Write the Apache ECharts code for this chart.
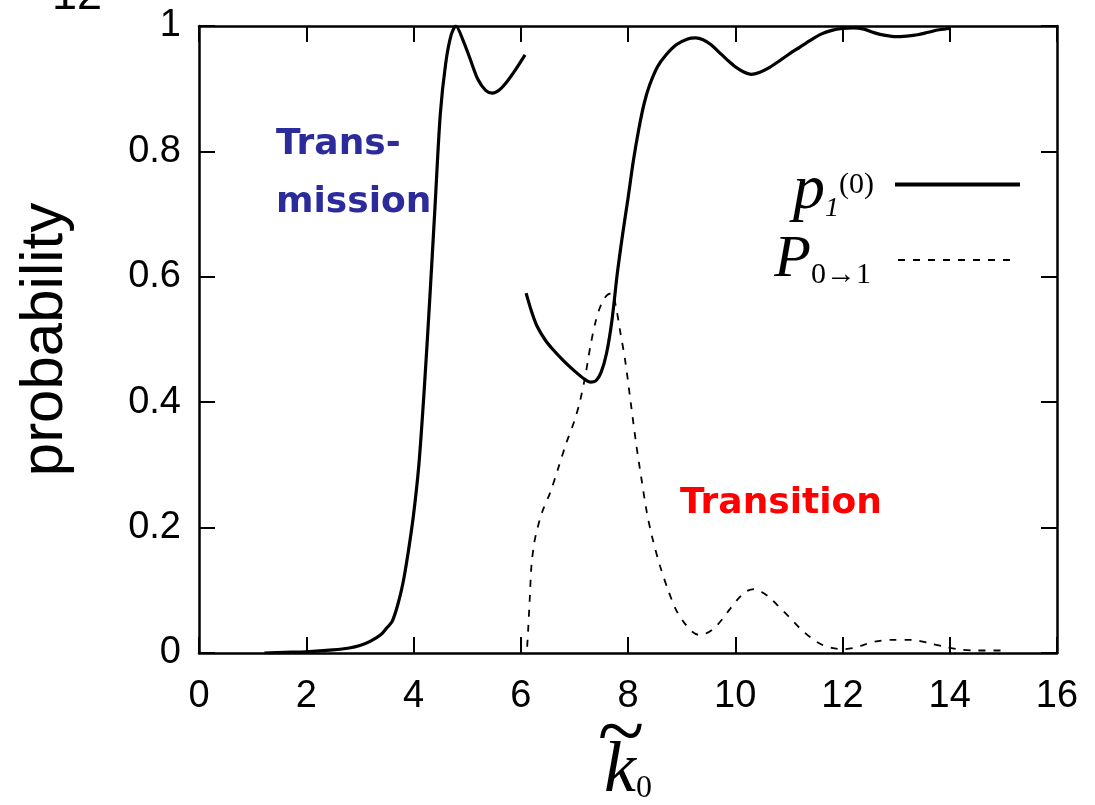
<!DOCTYPE html>
<html>
<head>
<meta charset="utf-8">
<script src="https://cdn.jsdelivr.net/npm/echarts@6/dist/echarts.min.js"></script>
<style>html,body{margin:0;padding:0;background:#fff}#c{width:1095px;height:805px}</style>
</head>
<body>
<div id="c"></div>
<script>
// ---- data ----
const pBranch1X = [1.22, 1.6, 2.0, 2.5, 2.8, 3.0, 3.2, 3.4, 3.5, 3.6, 3.7, 3.8, 3.9, 4.0, 4.1, 4.2, 4.3, 4.4, 4.5, 4.6, 4.7, 4.79, 4.92, 5.05, 5.2, 5.35, 5.47, 5.6, 5.75, 5.9, 6.08];
const pBranch1Y = [0.0, 0.001, 0.002, 0.005, 0.008, 0.012, 0.019, 0.030, 0.040, 0.050, 0.075, 0.110, 0.160, 0.220, 0.300, 0.420, 0.560, 0.710, 0.860, 0.940, 0.985, 1.0, 0.978, 0.949, 0.915, 0.897, 0.893, 0.898, 0.912, 0.930, 0.954];
const pBranch2X = [6.10, 6.2, 6.3, 6.45, 6.6, 6.8, 7.0, 7.2, 7.3, 7.4, 7.5, 7.6, 7.7, 7.8, 7.9, 8.0, 8.1, 8.2, 8.3, 8.4, 8.55, 8.7, 8.9, 9.1, 9.26, 9.4, 9.55, 9.7, 9.85, 10.0, 10.15, 10.3, 10.45, 10.6, 10.8, 11.0, 11.2, 11.4, 11.6, 11.8, 12.0, 12.2, 12.4, 12.6, 12.8, 13.0, 13.2, 13.4, 13.6, 13.8, 14.02];
const pBranch2Y = [0.574, 0.545, 0.522, 0.500, 0.484, 0.466, 0.450, 0.436, 0.432, 0.434, 0.448, 0.478, 0.530, 0.605, 0.668, 0.725, 0.785, 0.835, 0.876, 0.905, 0.935, 0.953, 0.970, 0.979, 0.981, 0.978, 0.970, 0.958, 0.946, 0.935, 0.927, 0.923, 0.926, 0.932, 0.943, 0.955, 0.966, 0.977, 0.987, 0.993, 0.996, 0.997, 0.995, 0.989, 0.985, 0.983, 0.984, 0.986, 0.990, 0.994, 0.996];
const transX = [6.12, 6.14, 6.17, 6.2, 6.25, 6.3, 6.4, 6.55, 6.7, 6.85, 7.0, 7.1, 7.2, 7.3, 7.4, 7.5, 7.6, 7.7, 7.78, 7.85, 7.95, 8.05, 8.15, 8.25, 8.35, 8.45, 8.6, 8.75, 8.9, 9.05, 9.2, 9.32, 9.45, 9.6, 9.75, 9.9, 10.05, 10.2, 10.35, 10.5, 10.65, 10.8, 11.0, 11.2, 11.4, 11.6, 11.8, 12.0, 12.2, 12.4, 12.6, 12.9, 13.3, 13.6, 13.9, 14.15, 14.5, 15.0];
const transY = [0.01, 0.04, 0.09, 0.14, 0.175, 0.195, 0.225, 0.256, 0.295, 0.335, 0.37, 0.40, 0.44, 0.49, 0.53, 0.556, 0.570, 0.574, 0.55, 0.515, 0.465, 0.40, 0.335, 0.278, 0.225, 0.185, 0.138, 0.10, 0.068, 0.048, 0.034, 0.029, 0.031, 0.039, 0.053, 0.07, 0.086, 0.098, 0.102, 0.097, 0.088, 0.075, 0.058, 0.040, 0.025, 0.014, 0.008, 0.006, 0.008, 0.013, 0.018, 0.021, 0.021, 0.016, 0.010, 0.006, 0.004, 0.004];
const xTicks = [0, 2, 4, 6, 8, 10, 12, 14, 16];
const yTicks = [0, 0.2, 0.4, 0.6, 0.8, 1];
const seriesNames = ['p1', 'P01'];

// ---- build series data ----
const zip = (xs, ys) => xs.map((x, i) => [x, ys[i]]);
const pData = zip(pBranch1X, pBranch1Y).concat([[6.09, '-']], zip(pBranch2X, pBranch2Y));
const tData = zip(transX, transY);

const chart = echarts.init(document.getElementById('c'), null, {renderer: 'canvas'});
const axisLineStyle = {color: '#000', width: 2.5};
const tickStyle = {show: true, inside: true, length: 16, lineStyle: {color: '#000', width: 2}};
const tickFont = {fontFamily: 'Liberation Sans, Arial, sans-serif', fontSize: 38, color: '#000'};
const serif = 'Liberation Serif, Times New Roman, DejaVu Serif, serif';

chart.setOption({
  animation: false,
  backgroundColor: '#fff',
  grid: {left: 199, right: 38, top: 26, bottom: 152, containLabel: false, outerBoundsMode: 'none'},
  xAxis: [{
    type: 'value', min: xTicks[0], max: xTicks[xTicks.length - 1], interval: 2,
    axisLine: {show: true, onZero: false, lineStyle: axisLineStyle},
    axisTick: tickStyle,
    splitLine: {show: false},
    axisLabel: Object.assign({margin: 25}, tickFont),
    name: '{t|~}\n{k|k}{s|0}', nameLocation: 'middle', nameGap: 80, nameMoveOverlap: false,
    nameTextStyle: {rich: {
      t: {fontFamily: serif, fontSize: 86, lineHeight: 6, color: '#000', padding: [0, 14, 0, 0]},
      k: {fontFamily: serif, fontStyle: 'italic', fontSize: 72, lineHeight: 66, color: '#000'},
      s: {fontFamily: serif, fontSize: 32, lineHeight: 0, color: '#000', verticalAlign: 'bottom'}
    }}
  }, {
    type: 'value', position: 'top', min: xTicks[0], max: xTicks[xTicks.length - 1], interval: 2,
    axisLine: {show: true, onZero: false, lineStyle: axisLineStyle},
    axisTick: tickStyle,
    axisLabel: {show: false}, splitLine: {show: false}
  }],
  yAxis: [{
    type: 'value', min: yTicks[0], max: yTicks[yTicks.length - 1], interval: 0.2,
    axisLine: {show: true, onZero: false, lineStyle: axisLineStyle},
    axisTick: tickStyle,
    splitLine: {show: false},
    axisLabel: Object.assign({margin: 18}, tickFont),
    name: 'probability', nameLocation: 'middle', nameGap: 124, nameRotate: 90, nameMoveOverlap: false,
    nameTextStyle: {fontFamily: 'Liberation Sans, Arial, sans-serif', fontSize: 60, color: '#000'}
  }, {
    type: 'value', position: 'right', min: yTicks[0], max: yTicks[yTicks.length - 1], interval: 0.2,
    axisLine: {show: true, onZero: false, lineStyle: axisLineStyle},
    axisTick: tickStyle,
    axisLabel: {show: false}, splitLine: {show: false}
  }],
  legend: [{
    data: [seriesNames[0]], right: 68, top: 154, orient: 'vertical', align: 'right',
    itemWidth: 125, itemHeight: 14, itemStyle: {opacity: 0},
    lineStyle: {width: 4},
    formatter: () => '{p|p}{s|1}{u|(0)}',
    textStyle: {padding: [13, 16, 0, 0], rich: {
      p: {fontFamily: serif, fontStyle: 'italic', fontSize: 64, color: '#000'},
      s: {fontFamily: serif, fontStyle: 'italic', fontSize: 28, color: '#000', verticalAlign: 'bottom'},
      u: {fontFamily: serif, fontSize: 30, color: '#000', verticalAlign: 'top', padding: [11, 0, 0, 0]}
    }}
  }, {
    data: [seriesNames[1]], right: 73, top: 225, orient: 'vertical', align: 'right',
    itemWidth: 118, itemHeight: 14, itemStyle: {opacity: 0},
    formatter: () => '{P|P}{s|0\u21921}',
    textStyle: {padding: [0, 22, 0, 0], rich: {
      P: {fontFamily: serif, fontStyle: 'italic', fontSize: 60, color: '#000'},
      s: {fontFamily: serif, fontSize: 30, color: '#000', verticalAlign: 'bottom'}
    }}
  }],
  series: [{
    name: seriesNames[0], type: 'line', data: pData, showSymbol: false, symbol: 'none',
    smooth: 0.3, connectNulls: false,
    lineStyle: {color: '#000', width: 3.2, type: 'solid'}
  }, {
    name: seriesNames[1], type: 'line', data: tData, showSymbol: false, symbol: 'none',
    smooth: 0.3,
    lineStyle: {color: '#000', width: 1.8, type: [7, 8]}
  }],
  graphic: [
    {type: 'text', left: 52, top: -26, style: {text: '12', font: '45px "Liberation Sans", Arial, sans-serif', fill: '#000'}},
    {type: 'text', left: 276, top: 116, style: {text: 'Trans-\nmission', font: 'bold 36px "DejaVu Sans", sans-serif', fill: '#2b2b9b', lineHeight: 58}},
    {type: 'text', left: 680, top: 486, style: {text: 'Transition', font: 'bold 36px "DejaVu Sans", sans-serif', fill: '#ff0000'}}
  ]
});
</script>
</body>
</html>
